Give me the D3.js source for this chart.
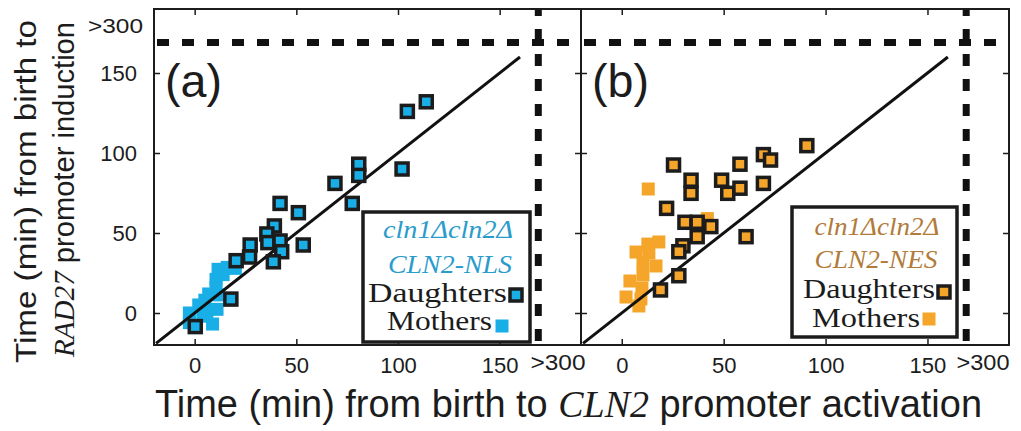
<!DOCTYPE html>
<html>
<head>
<meta charset="utf-8">
<script src="https://d3js.org/d3.v7.min.js"></script>
<style>
  html, body { margin: 0; padding: 0; background: #fff; }
  svg { display: block; }
</style>
</head>
<body>
<svg id="chart" width="1021" height="431"></svg>
<script>
// ---------------- DATA ----------------
const xTicks = [0, 50, 100, 150];
const yTicks = [0, 50, 100, 150];
const overflowValue = 169;          // position of the ">300" bin
const overflowLabel = ">300";
const panelLabels = ["(a)", "(b)"];

// Panel (a): cln1Δcln2Δ CLN2-NLS  [CLN2 activation, RAD27 induction]
const daughtersA = [
  [104.6, 126], [113.9, 132], [80.7, 93], [80.7, 86], [102, 90], [69, 81],
  [77.5, 68.5], [42, 68.5], [51, 62.7], [39.2, 54.4], [35.5, 49.4], [36, 44],
  [42, 45], [42.8, 38.3], [38.7, 32], [53.4, 42.5], [27.3, 42.5], [27, 35],
  [20.4, 32.7], [17.8, 8.7], [0.3, -8.5]
];
const mothersA = [
  [11.5, 27.3], [16, 28.5], [20, 27.9], [14, 24], [10.5, 21], [10.5, 16],
  [6.9, 11.9], [11.8, 11.3], [5, 8], [2, 5], [11, 2.3], [6, 1],
  [-2.6, 0], [-2.6, -6], [8.8, -6.9], [4, -2]
];

// Panel (b): cln1Δcln2Δ CLN2-NES
const daughtersB = [
  [90.8, 104.6], [69.5, 99], [73, 95.6], [58, 93], [25.4, 92.5], [34, 83],
  [34, 74.8], [49, 83], [52, 74.8], [58, 78], [69.5, 81], [22, 65.4],
  [31, 56.7], [37, 56.7], [43.7, 54], [37, 47.7], [61, 47.7], [30, 42],
  [28, 38.3], [28, 23.3], [19, 14.4]
];
const mothersB = [
  [13, 77.5], [42, 59], [18.2, 44.4], [12.8, 43.1], [7, 38.1], [13.3, 37.5],
  [10.4, 31.3], [16.8, 29.4], [10.4, 23.8], [4, 20], [9.9, 15.6], [2.1, 10],
  [9.4, 8.8], [8.4, 4.4]
];

const fitLine = [[-19, -19], [160, 160]];

const legendA = { line1: "cln1Δcln2Δ", line2: "CLN2-NLS", d: "Daughters", m: "Mothers" };
const legendB = { line1: "cln1Δcln2Δ", line2: "CLN2-NES", d: "Daughters", m: "Mothers" };

const colorBlue = "#19aee6";
const colorOrange = "#f5a52a";
const textBlue = "#2a9ccc";
const textBrown = "#b27b3a";
const ink = "#1c1c1c";

// ---------------- LAYOUT ----------------
const svg = d3.select("#chart");
const plotTop = 9, plotBottom = 345;
const y = d3.scaleLinear().domain([-20, 190]).range([plotBottom, plotTop]);

const panels = [
  { x0: 154, x1: 581, label: panelLabels[0], daughters: daughtersA, mothers: mothersA,
    color: colorBlue, textColor: textBlue, legend: legendA,
    box: { x: 363, y: 212, w: 167, h: 130 },
    lt: { l1: [448, 238, 130], l2: [450, 273, 124], d: [368, 302, 139], m: [387, 330, 105] },
    mk: { d: [516, 295], m: [502, 326] },
    over: [558, 370, 55] },
  { x0: 581, x1: 1009, label: panelLabels[1], daughters: daughtersB, mothers: mothersB,
    color: colorOrange, textColor: textBrown, legend: legendB,
    box: { x: 792, y: 207, w: 165, h: 130 },
    lt: { l1: [877, 235, 125], l2: [876, 268, 123], d: [803, 298, 132], m: [812, 327, 108] },
    mk: { d: [944, 292], m: [929, 319] },
    over: [983, 370, 53] }
];

panels.forEach((p, i) => {
  const x = d3.scaleLinear().domain([-20, 190]).range([p.x0, p.x1]);
  const g = svg.append("g");

  // inward ticks on all sides
  const bAxis = d3.axisBottom(x).tickValues(xTicks).tickSizeInner(-6).tickSizeOuter(0).tickPadding(12);
  g.append("g").attr("transform", `translate(0,${plotBottom})`).call(bAxis);
  const tAxis = d3.axisTop(x).tickValues(xTicks).tickSizeInner(-6).tickSizeOuter(0).tickFormat("");
  g.append("g").attr("transform", `translate(0,${plotTop})`).call(tAxis);
  const lAxis = d3.axisLeft(y).tickValues(yTicks).tickSizeInner(-6).tickSizeOuter(0).tickPadding(17);
  if (i > 0) lAxis.tickFormat("");
  g.append("g").attr("transform", `translate(${p.x0},0)`).call(lAxis);
  const rAxis = d3.axisRight(y).tickValues(yTicks).tickSizeInner(-6).tickSizeOuter(0).tickFormat("");
  g.append("g").attr("transform", `translate(${p.x1},0)`).call(rAxis);

  g.selectAll(".domain").remove();
  g.selectAll(".tick line").attr("stroke", ink).attr("stroke-width", 1.5);
  g.selectAll(".tick text").attr("fill", ink)
    .style("font-family", "'Liberation Sans', Arial, sans-serif").style("font-size", "22px");

  // frame
  g.append("rect").attr("x", p.x0).attr("y", plotTop)
    .attr("width", p.x1 - p.x0).attr("height", plotBottom - plotTop)
    .attr("fill", "none").attr("stroke", ink).attr("stroke-width", 2);

  // overflow dashed lines
  g.append("line")
    .attr("x1", p.x0 + 3).attr("x2", p.x1 - 4)
    .attr("y1", y(overflowValue)).attr("y2", y(overflowValue))
    .attr("stroke", "#111").attr("stroke-width", 7).attr("stroke-dasharray", "12,13");
  g.append("line")
    .attr("x1", x(overflowValue)).attr("x2", x(overflowValue))
    .attr("y1", plotTop + 1).attr("y2", plotBottom)
    .attr("stroke", "#111").attr("stroke-width", 7).attr("stroke-dasharray", "12,13")
    .attr("stroke-dashoffset", 6);

  // overflow tick label on x
  g.append("text").attr("x", p.over[0]).attr("y", p.over[1])
    .attr("text-anchor", "middle").attr("fill", ink)
    .attr("textLength", p.over[2]).attr("lengthAdjust", "spacingAndGlyphs")
    .style("font-family", "'Liberation Sans', Arial, sans-serif").style("font-size", "22px")
    .text(overflowLabel);

  // mothers
  const ms = 13;
  g.selectAll(".mother").data(p.mothers).enter().append("rect")
    .attr("x", d => x(d[0]) - ms / 2).attr("y", d => y(d[1]) - ms / 2)
    .attr("width", ms).attr("height", ms).attr("fill", p.color);

  // y = x line
  g.append("line")
    .attr("x1", x(fitLine[0][0])).attr("y1", y(fitLine[0][1]))
    .attr("x2", x(fitLine[1][0])).attr("y2", y(fitLine[1][1]))
    .attr("stroke", "#111").attr("stroke-width", 3);

  // daughters
  const ds = 12;
  g.selectAll(".daughter").data(p.daughters).enter().append("rect")
    .attr("x", d => x(d[0]) - ds / 2).attr("y", d => y(d[1]) - ds / 2)
    .attr("width", ds).attr("height", ds).attr("fill", p.color)
    .attr("stroke", ink).attr("stroke-width", 3.5);

  // panel label
  g.append("text").attr("x", p.x0 + 11).attr("y", 97).attr("fill", ink)
    .attr("textLength", 57).attr("lengthAdjust", "spacingAndGlyphs")
    .style("font-family", "'Liberation Sans', Arial, sans-serif").style("font-size", "47px")
    .text(p.label);

  // legend
  const b = p.box;
  g.append("rect").attr("x", b.x).attr("y", b.y).attr("width", b.w).attr("height", b.h)
    .attr("fill", "#fff").attr("stroke", ink).attr("stroke-width", 3.5);
  const serifI = "'Liberation Serif', 'Times New Roman', serif";
  g.append("text").attr("x", p.lt.l1[0]).attr("y", p.lt.l1[1]).attr("text-anchor", "middle")
    .attr("fill", p.textColor).attr("textLength", p.lt.l1[2]).attr("lengthAdjust", "spacingAndGlyphs")
    .style("font-family", serifI).style("font-style", "italic").style("font-size", "26px")
    .text(p.legend.line1);
  g.append("text").attr("x", p.lt.l2[0]).attr("y", p.lt.l2[1]).attr("text-anchor", "middle")
    .attr("fill", p.textColor).attr("textLength", p.lt.l2[2]).attr("lengthAdjust", "spacingAndGlyphs")
    .style("font-family", serifI).style("font-style", "italic").style("font-size", "26px")
    .text(p.legend.line2);
  g.append("text").attr("x", p.lt.d[0]).attr("y", p.lt.d[1])
    .attr("fill", ink).attr("textLength", p.lt.d[2]).attr("lengthAdjust", "spacingAndGlyphs")
    .style("font-family", serifI).style("font-size", "27px").text(p.legend.d);
  g.append("text").attr("x", p.lt.m[0]).attr("y", p.lt.m[1])
    .attr("fill", ink).attr("textLength", p.lt.m[2]).attr("lengthAdjust", "spacingAndGlyphs")
    .style("font-family", serifI).style("font-size", "27px").text(p.legend.m);
  g.append("rect").attr("x", p.mk.d[0] - ds / 2).attr("y", p.mk.d[1] - ds / 2)
    .attr("width", ds).attr("height", ds).attr("fill", p.color)
    .attr("stroke", ink).attr("stroke-width", 3.5);
  g.append("rect").attr("x", p.mk.m[0] - ms / 2).attr("y", p.mk.m[1] - ms / 2)
    .attr("width", ms).attr("height", ms).attr("fill", p.color);
});

// overflow label on y axis
svg.append("text").attr("x", 143).attr("y", 26).attr("dy", "0.35em")
  .attr("text-anchor", "end").attr("fill", ink)
  .attr("textLength", 55).attr("lengthAdjust", "spacingAndGlyphs")
  .style("font-family", "'Liberation Sans', Arial, sans-serif").style("font-size", "20px")
  .text(overflowLabel);

// axis titles
const sans = "'Liberation Sans', Arial, sans-serif";
const serif = "'Liberation Serif', 'Times New Roman', serif";
const xt = svg.append("text").attr("x", 155).attr("y", 417).attr("fill", ink)
  .attr("textLength", 827).attr("lengthAdjust", "spacingAndGlyphs")
  .style("font-family", sans).style("font-size", "38px");
xt.append("tspan").text("Time (min) from birth to ");
xt.append("tspan").style("font-family", serif).style("font-style", "italic").text("CLN2");
xt.append("tspan").text(" promoter activation");

svg.append("text").attr("transform", "translate(36,191.5) rotate(-90)")
  .attr("text-anchor", "middle").attr("fill", ink)
  .attr("textLength", 343).attr("lengthAdjust", "spacingAndGlyphs")
  .style("font-family", sans).style("font-size", "30px")
  .text("Time (min) from birth to");
const y2 = svg.append("text").attr("transform", "translate(74,189.5) rotate(-90)")
  .attr("text-anchor", "middle").attr("fill", ink)
  .attr("textLength", 335).attr("lengthAdjust", "spacingAndGlyphs")
  .style("font-family", sans).style("font-size", "30px");
y2.append("tspan").style("font-family", serif).style("font-style", "italic").text("RAD27");
y2.append("tspan").text(" promoter induction");
</script>
</body>
</html>
